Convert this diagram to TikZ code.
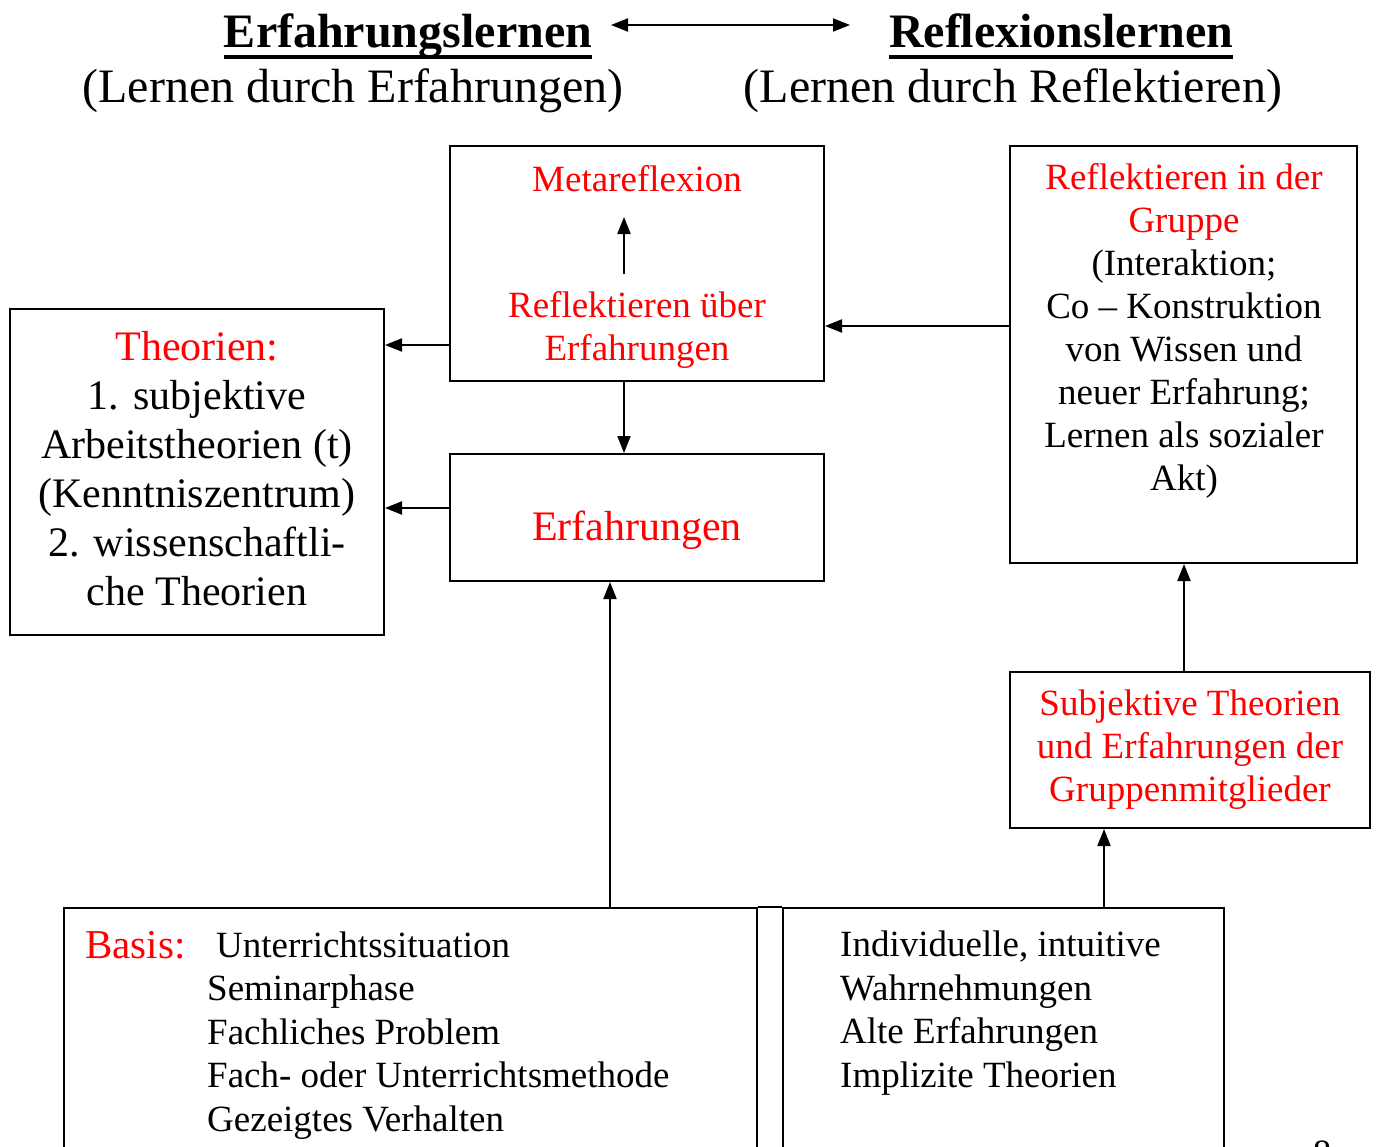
\documentclass[tikz,border=0pt]{standalone}
\usepackage{fontspec}
\setmainfont{Liberation Serif}
\usetikzlibrary{arrows.meta}
\definecolor{tred}{RGB}{255,0,0}
\begin{document}
\begin{tikzpicture}[x=1pt,y=-1pt,
  box/.style={draw, line width=2pt, inner sep=0pt},
  arr/.style={line width=2pt, -{Triangle[length=17pt,width=13pt]}},
  darr/.style={line width=2pt, {Triangle[length=17pt,width=13pt]}-{Triangle[length=17pt,width=13pt]}},
  txt/.style={align=center, inner sep=0pt, font=\fontsize{37}{43}\selectfont},
  txtl/.style={align=left, inner sep=0pt, font=\fontsize{37}{43.5}\selectfont},
  big/.style={align=center, inner sep=0pt, font=\fontsize{42}{49}\selectfont},
  head/.style={inner sep=0pt, font=\fontsize{48}{55}\selectfont},
  uline/.style={line width=4pt},
  red/.style={text=tred}
]
\clip (0,0) rectangle (1376,1146);
\fill[white] (0,0) rectangle (1376,1146);

% header
\node[head, anchor=base, font=\fontsize{48}{55}\selectfont\bfseries] (h1) at (408,47) {Erfahrungslernen};
\node[head, anchor=base] (h1b) at (353,102) {(Lernen durch Erfahrungen)};
\node[head, anchor=base, font=\fontsize{48}{55}\selectfont\bfseries] (h2) at (1061,47) {Reflexionslernen};
\node[head, anchor=base] (h2b) at (1013,102) {(Lernen durch Reflektieren)};
\draw[uline] (h1.base west |- 0,57) -- (h1.base east |- 0,57);
\draw[uline] (h2.base west |- 0,57) -- (h2.base east |- 0,57);
\coordinate (hl) at (611,25);
\coordinate (hr) at (850,25);
\draw[darr] (hl) -- (hr);

% boxes
\node[box, minimum width=374pt, minimum height=235pt] (meta) at (637,263.5) {};
\node[box, minimum width=374pt, minimum height=127pt] (erf) at (637,517.5) {};
\node[box, minimum width=374pt, minimum height=326pt] (theo) at (197,472) {};
\node[box, minimum width=347pt, minimum height=417pt] (grp) at (1183.5,354.5) {};
\node[box, minimum width=360pt, minimum height=156pt] (subj) at (1190,750) {};
\node[box, minimum width=693pt, minimum height=260pt] (basis) at (410.5,1038) {};
\node[box, minimum width=441pt, minimum height=260pt] (indiv) at (1003.5,1038) {};
\draw[line width=2pt] (basis.north east) -- (indiv.north west);

% texts
\node[txt, red] (metat) at (637,179) {Metareflexion};
\node[txt, red] (reft) at (637,330) {Reflektieren über\\Erfahrungen};
\node[big, red] (erft) at (637,530) {Erfahrungen};
\node[big] (theot) at (197,469) {\textcolor{tred}{Theorien:}\\1. subjektive\\Arbeitstheorien (t)\\(Kenntniszentrum)\\2. wissenschaftli-\\che Theorien};
\node[txt] (grpt) at (1184,331) {\textcolor{tred}{Reflektieren in der}\\\textcolor{tred}{Gruppe}\\(Interaktion;\\Co – Konstruktion\\von Wissen und\\neuer Erfahrung;\\Lernen als sozialer\\Akt)};
\node[txt, red] (subjt) at (1190,750) {Subjektive Theorien\\und Erfahrungen der\\Gruppenmitglieder};
\node[inner sep=0pt, anchor=base west, red, font=\fontsize{41}{47}\selectfont] (bas) at (85,958) {Basis:};
\node[inner sep=0pt, anchor=base west, font=\fontsize{37}{43}\selectfont] (bas1) at (216,957) {Unterrichtssituation};
\node[txtl, anchor=west] (bas2) at (207,1057) {Seminarphase\\Fachliches Problem\\Fach- oder Unterrichtsmethode\\Gezeigtes Verhalten};
\node[txtl, anchor=west] (indt) at (840,1013) {Individuelle, intuitive\\Wahrnehmungen\\Alte Erfahrungen\\Implizite Theorien};
\node[inner sep=0pt, font=\fontsize{37}{43}\selectfont] (pg) at (1322,1153) {8};

% connectors
\coordinate (ma) at (624,274);
\coordinate (mb) at (624,217);
\draw[arr] (ma) -- (mb);
\draw[arr] (meta.west |- 0,345) -- (theo.east |- 0,345);
\draw[arr] (erf.west |- 0,508) -- (theo.east |- 0,508);
\draw[arr] (meta.south -| 624,0) -- (erf.north -| 624,0);
\draw[arr] (grp.west |- 0,326) -- (meta.east |- 0,326);
\draw[arr] (basis.north -| 610,0) -- (erf.south -| 610,0);
\draw[arr] (subj.north -| 1184,0) -- (grp.south -| 1184,0);
\draw[arr] (indiv.north -| 1104,0) -- (subj.south -| 1104,0);
\end{tikzpicture}
\end{document}
